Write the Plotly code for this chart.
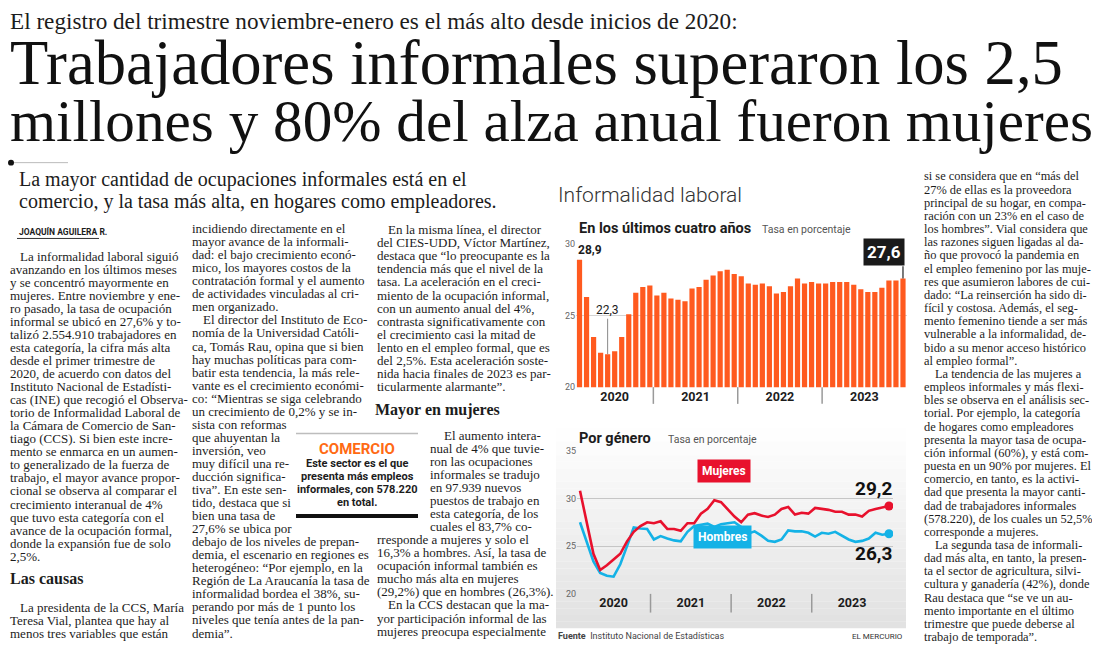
import plotly.graph_objects as go

# the page body adds an 8 px margin, so the figure is drawn 8 px smaller
# and every page position is measured from the window corner
OFF = 8
W, H = 1100 - OFF, 655 - OFF


def px(x):
    return (max(x, OFF) - OFF) / W


def py(y):
    return 1 - (y - OFF) / H


# ---- datos del gráfico (tasa de ocupación informal, %) ----
anios = ["2020", "2021", "2022", "2023"]
centro_anio = [5, 16.5, 28.5, 40.5]
corte_anio = [10.5, 22.5, 34.5]

tasa_total = [28.9, 26.3, 23.5, 22.4, 22.3, 22.5, 23.5, 25.1, 26.6, 27.0, 27.1,
              26.4, 26.6, 26.2, 26.1, 26.0, 26.9, 27.0, 27.5, 27.8, 28.1, 28.2, 27.9,
              27.75, 27.25, 27.15, 27.25, 27.05, 26.55, 26.65, 27.05, 27.6, 27.25, 27.35, 27.25,
              27.25, 27.35, 27.35, 27.35, 27.15, 26.85, 26.65, 26.65, 26.95, 27.45, 27.45, 27.6]

mujeres = [30.8, 27.6, 24.2, 22.5, 23.0, 23.6, 24.2, 25.5, 26.5, 27.1, 27.5,
           27.4, 27.6, 26.8, 26.8, 26.6, 27.4, 27.4, 28.4, 28.9, 29.8, 29.6, 28.8,
           28.1, 27.5, 28.3, 28.45, 28.2, 28.05, 28.3, 28.9, 29.1, 28.3, 28.5, 28.4,
           29.0, 28.9, 28.8, 28.6, 28.6, 28.3, 28.3, 28.1, 28.7, 28.9, 29.05, 29.2]

hombres = [27.5, 25.5, 23.4, 22.2, 21.9, 21.8, 23.1, 25.0, 26.95, 26.85, 26.8,
           25.7, 26.05, 25.8, 25.6, 25.5, 26.5, 27.1, 27.25, 27.35, 27.0, 27.3, 27.4,
           27.5, 27.0, 26.3, 26.55, 26.1, 25.55, 25.45, 25.7, 26.65, 26.55, 26.55, 26.4,
           26.0, 26.4, 26.3, 26.5, 26.1, 25.7, 25.45, 25.55, 25.8, 26.4, 26.2, 26.3]

meses = list(range(len(tasa_total)))

# ---- textos de la página ----
col1 = ["La informalidad laboral siguió", "avanzando en los últimos meses",
        "y se concentró mayormente en", "mujeres. Entre noviembre y ene-",
        "ro pasado, la tasa de ocupación", "informal se ubicó en 27,6% y to-",
        "talizó 2.554.910 trabajadores en", "esta categoría, la cifra más alta",
        "desde el primer trimestre de", "2020, de acuerdo con datos del",
        "Instituto Nacional de Estadísti-", "cas (INE) que recogió el Observa-",
        "torio de Informalidad Laboral de", "la Cámara de Comercio de San-",
        "tiago (CCS). Si bien este incre-", "mento se enmarca en un aumen-",
        "to generalizado de la fuerza de", "trabajo, el mayor avance propor-",
        "cional se observa al comparar el", "crecimiento interanual de 4%",
        "que tuvo esta categoría con el", "avance de la ocupación formal,",
        "donde la expansión fue de solo", "2,5%."]
col1b = ["La presidenta de la CCS, María", "Teresa Vial, plantea que hay al",
         "menos tres variables que están"]
col2 = ["incidiendo directamente en el", "mayor avance de la informali-",
        "dad: el bajo crecimiento econó-", "mico, los mayores costos de la",
        "contratación formal y el aumento", "de actividades vinculadas al cri-",
        "men organizado.", "El director del Instituto de Eco-",
        "nomía de la Universidad Católi-", "ca, Tomás Rau, opina que si bien",
        "hay muchas políticas para com-", "batir esta tendencia, la más rele-",
        "vante es el crecimiento económi-", "co: “Mientras se siga celebrando",
        "un crecimiento de 0,2% y se in-", "sista con reformas",
        "que ahuyentan la", "inversión, veo", "muy difícil una re-",
        "ducción significa-", "tiva”. En este sen-", "tido, destaca que si",
        "bien una tasa de", "27,6% se ubica por",
        "debajo de los niveles de prepan-", "demia, el escenario en regiones es",
        "heterogéneo: “Por ejemplo, en la", "Región de La Araucanía la tasa de",
        "informalidad bordea el 38%, su-", "perando por más de 1 punto los",
        "niveles que tenía antes de la pan-", "demia”."]
col3 = ["En la misma línea, el director", "del CIES-UDD, Víctor Martínez,",
        "destaca que “lo preocupante es la", "tendencia más que el nivel de la",
        "tasa. La aceleración en el creci-", "miento de la ocupación informal,",
        "con un aumento anual del 4%,", "contrasta significativamente con",
        "el crecimiento casi la mitad de", "lento en el empleo formal, que es",
        "del 2,5%. Esta aceleración soste-", "nida hacia finales de 2023 es par-",
        "ticularmente alarmante”."]
col3b = ["El aumento intera-", "nual de 4% que tuvie-", "ron las ocupaciones",
         "informales se tradujo", "en 97.939 nuevos", "puestos de trabajo en",
         "esta categoría, de los", "cuales el 83,7% co-",
         "rresponde a mujeres y solo el", "16,3% a hombres. Así, la tasa de",
         "ocupación informal también es", "mucho más alta en mujeres",
         "(29,2%) que en hombres (26,3%).", "En la CCS destacan que la ma-",
         "yor participación informal de las", "mujeres preocupa especialmente"]
col4 = ["si se considera que en “más del", "27% de ellas es la proveedora",
        "principal de su hogar, en compa-", "ración con un 23% en el caso de",
        "los hombres”. Vial considera que", "las razones siguen ligadas al da-",
        "ño que provocó la pandemia en", "el empleo femenino por las muje-",
        "res que asumieron labores de cui-", "dado: “La reinserción ha sido di-",
        "fícil y costosa. Además, el seg-", "mento femenino tiende a ser más",
        "vulnerable a la informalidad, de-", "bido a su menor acceso histórico",
        "al empleo formal”.", "La tendencia de las mujeres a",
        "empleos informales y más flexi-", "bles se observa en el análisis sec-",
        "torial. Por ejemplo, la categoría", "de hogares como empleadores",
        "presenta la mayor tasa de ocupa-", "ción informal (60%), y está com-",
        "puesta en un 90% por mujeres. El", "comercio, en tanto, es la activi-",
        "dad que presenta la mayor canti-", "dad de trabajadores informales",
        "(578.220), de los cuales un 52,5%", "corresponde a mujeres.",
        "La segunda tasa de informali-", "dad más alta, en tanto, la presen-",
        "ta el sector de agricultura, silvi-", "cultura y ganadería (42%), donde",
        "Rau destaca que “se ve un au-", "mento importante en el último",
        "trimestre que puede deberse al", "trabajo de temporada”."]
recuadro = ["Este sector es el que", "presenta más empleos",
            "informales, con 578.220", "en total."]

SERIF = "Liberation Serif, Times New Roman, serif"
SANS = "Liberation Sans Narrow, Roboto, Arial, sans-serif"
NARANJA = "#ff5a1f"
ROJO = "#e8112d"
CELESTE = "#14b2e6"
TINTA = "#1c1c1c"

fig = go.Figure()

fig.add_trace(go.Bar(x=meses, y=tasa_total, marker_color=NARANJA, marker_line_width=0,
                     showlegend=False, hoverinfo="skip", xaxis="x", yaxis="y"))

fig.add_trace(go.Scatter(x=meses, y=hombres, mode="lines", line=dict(color=CELESTE, width=2.6),
                         showlegend=False, xaxis="x2", yaxis="y2"))
fig.add_trace(go.Scatter(x=meses, y=mujeres, mode="lines", line=dict(color=ROJO, width=2.6),
                         showlegend=False, xaxis="x2", yaxis="y2"))
fig.add_trace(go.Scatter(x=[meses[-1]], y=[mujeres[-1]], mode="markers",
                         marker=dict(color=ROJO, size=9), showlegend=False,
                         xaxis="x2", yaxis="y2"))
fig.add_trace(go.Scatter(x=[meses[-1]], y=[hombres[-1]], mode="markers",
                         marker=dict(color=CELESTE, size=9), showlegend=False,
                         xaxis="x2", yaxis="y2"))

ticks_anio = ["<b>" + a + "</b>" for a in anios]

fig.update_layout(
    width=W, height=H, autosize=False,
    margin=dict(l=0, r=0, t=0, b=0),
    paper_bgcolor="white", plot_bgcolor="rgba(0,0,0,0)",
    bargap=0.26,
    xaxis=dict(domain=[px(576), px(906.5)], range=[-0.5, 46.5], anchor="y",
               tickvals=centro_anio, ticktext=ticks_anio, showgrid=False, zeroline=False,
               showline=False, ticks="", tickfont=dict(family=SANS, size=12.5, color=TINTA)),
    yaxis=dict(domain=[py(388), py(242.7)], range=[20, 30], anchor="x",
               tickvals=[20, 25, 30], gridcolor="#d4d4d4", gridwidth=1, zeroline=False,
               showline=False, ticks="", tickfont=dict(family=SANS, size=9, color="#666")),
    xaxis2=dict(domain=[px(577), px(893)], range=[-0.447, 46.6], anchor="y2",
                tickvals=centro_anio, ticktext=ticks_anio, showgrid=False, zeroline=False,
                showline=False, ticks="", tickfont=dict(family=SANS, size=12.5, color=TINTA)),
    yaxis2=dict(domain=[py(598), py(452.5)], range=[20, 35], anchor="x2",
                tickvals=[20, 25, 30, 35], gridcolor="#c6c6c6", gridwidth=1.4, zeroline=False,
                showline=False, ticks="", tickfont=dict(family=SANS, size=9, color="#666")),
)

shapes = []
# fondo degradado del segundo gráfico
n_bandas = 30
y_ini, y_fin = 430, 633
for i in range(n_bandas):
    t = (i + 0.5) / n_bandas
    g = int(round(255 - 30 * t))
    shapes.append(dict(type="rect", xref="paper", yref="paper", layer="below",
                       x0=px(556), x1=px(906),
                       y0=py(y_ini + (y_fin - y_ini) * (i + 1) / n_bandas),
                       y1=py(y_ini + (y_fin - y_ini) * i / n_bandas),
                       fillcolor=f"rgb({g},{g},{g})", line_width=0))

# separadores de año
for c in corte_anio:
    shapes.append(dict(type="line", xref="x", yref="paper", x0=c, x1=c,
                       y0=py(405), y1=py(388), line=dict(color="#9a9a9a", width=1.5)))
    shapes.append(dict(type="line", xref="x2", yref="paper", x0=c, x1=c,
                       y0=py(617), y1=py(598), line=dict(color="#9a9a9a", width=1.5)))

# guía del último dato (27,6)
shapes.append(dict(type="line", xref="x", yref="y", x0=meses[-1], x1=meses[-1],
                   y0=tasa_total[-1], y1=28.45, line=dict(color="#222", width=1.2)))

# adornos de la página
shapes.append(dict(type="line", xref="paper", yref="paper", x0=px(12), x1=px(68),
                   y0=py(160), y1=py(160), line=dict(color="#bbbbbb", width=1)))
shapes.append(dict(type="circle", xref="paper", yref="paper", x0=px(8), x1=px(14),
                   y0=py(163), y1=py(157), fillcolor="#111", line_width=0))
shapes.append(dict(type="line", xref="paper", yref="paper", x0=px(17), x1=px(99),
                   y0=py(237), y1=py(237), line=dict(color="#333", width=1)))
shapes.append(dict(type="line", xref="paper", yref="paper", x0=px(296), x1=px(418),
                   y0=py(435), y1=py(435), line=dict(color="#bdbdbd", width=1.5)))
shapes.append(dict(type="line", xref="paper", yref="paper", x0=px(296), x1=px(418),
                   y0=py(519), y1=py(519), line=dict(color="#111", width=4)))

ann = []


def texto(x, y, t, size, family=SERIF, color=TINTA, anchor="left", bold=False, weight=None):
    f = dict(family=family, size=size, color=color)
    if weight is not None:
        f["weight"] = weight
    ann.append(dict(x=px(x), y=py(y), xref="paper", yref="paper", text=("<b>%s</b>" % t) if bold else t,
                    showarrow=False, xanchor=anchor, yanchor="middle", font=f))


# encabezados
texto(8, 16, "El registro del trimestre noviembre-enero es el más alto desde inicios de 2020:", 23.2)
texto(8, 59, "Trabajadores informales superaron los 2,5", 62.6, color="#111")
texto(8, 118, "millones y 80% del alza anual fueron mujeres", 59.2, color="#111")
texto(17, 177, "La mayor cantidad de ocupaciones informales está en el", 20)
texto(17, 199, "comercio, y la tasa más alta, en hogares como empleadores.", 20)
texto(17, 230, "JOAQUÍN AGUILERA R.", 8.5, family=SANS, bold=True)

# columnas de texto
ESP = 13.25
BODY = 13
for i, linea in enumerate(col1):
    texto(18 if i == 0 else 8, 255 + i * ESP, linea, BODY)
texto(8, 582, "Las causas", 16, bold=True)
for i, linea in enumerate(col1b):
    texto(18 if i == 0 else 8, 612 + i * ESP, linea, BODY)

for i, linea in enumerate(col2):
    texto(201 if i == 7 else 190, 227 + i * ESP, linea, BODY)

for i, linea in enumerate(col3):
    texto(386 if i == 0 else 375, 228 + i * 13.3, linea, BODY)
texto(373, 411, "Mayor en mujeres", 16, bold=True)
for i, linea in enumerate(col3b):
    if i == 0:
        x0 = 442
    elif i < 8:
        x0 = 428
    elif i == 13:
        x0 = 386
    else:
        x0 = 375
    texto(x0, 437 + i * ESP, linea, BODY)

for i, linea in enumerate(col4):
    texto(933 if i in (15, 28) else 922, 174 + i * 13.37, linea, 12.4)

# recuadro COMERCIO
texto(357, 451, "COMERCIO", 15, family=SANS, color="#ff6a13", anchor="center", bold=True)
for i, linea in enumerate(recuadro):
    texto(357, 466 + i * 13, linea, 11, family=SANS, anchor="center", bold=True)

# títulos del gráfico
texto(556, 193, "Informalidad laboral", 21, family="Roboto, sans-serif", color="#333", weight=300)
texto(577, 227, "En los últimos cuatro años", 14.5, family=SANS, bold=True)
texto(760, 228, "Tasa en porcentaje", 10.5, family=SANS, color="#555")
texto(577, 440, "Por género", 14.5, family=SANS, bold=True)
texto(666, 441, "Tasa en porcentaje", 10.5, family=SANS, color="#555")
texto(556, 641, "<b>Fuente</b>  Instituto Nacional de Estadísticas", 9, family=SANS, color="#444")
texto(905, 641, "EL MERCURIO", 8, family=SANS, color="#333", anchor="right")

# etiquetas de datos
ann.append(dict(x=meses[0], y=tasa_total[0], xref="x", yref="y", text="<b>28,9</b>",
                showarrow=False, xanchor="left", yanchor="bottom", xshift=-4, yshift=1,
                font=dict(family=SANS, size=12, color=TINTA)))
ann.append(dict(x=meses[4], y=tasa_total[4], xref="x", yref="y", text="22,3",
                showarrow=True, arrowhead=0, arrowwidth=1, arrowcolor="#8a8a8a",
                ax=0, ay=-44, font=dict(family=SANS, size=12, color=TINTA)))
ann.append(dict(x=meses[-1], y=28.45, xref="x", yref="y", text="<b>27,6</b>",
                showarrow=False, xanchor="right", yanchor="bottom", xshift=2,
                bgcolor="#1a1a1a", borderpad=3,
                font=dict(family=SANS, size=17, color="white")))
ann.append(dict(x=meses[-1], y=mujeres[-1], xref="x2", yref="y2", text="<b>29,2</b>",
                showarrow=False, xanchor="right", yanchor="bottom", xshift=5, yshift=4,
                font=dict(family=SANS, size=19, color="#111")))
ann.append(dict(x=meses[-1], y=hombres[-1], xref="x2", yref="y2", text="<b>26,3</b>",
                showarrow=False, xanchor="right", yanchor="top", xshift=5, yshift=-6,
                font=dict(family=SANS, size=19, color="#111")))
ann.append(dict(x=px(723.5), y=py(485.5), xref="paper", yref="paper", text="<b>Mujeres</b>",
                showarrow=False, bgcolor=ROJO, borderpad=4,
                font=dict(family=SANS, size=12, color="white")))
ann.append(dict(x=px(722.5), y=py(552), xref="paper", yref="paper", text="<b>Hombres</b>",
                showarrow=False, bgcolor=CELESTE, borderpad=4,
                font=dict(family=SANS, size=12, color="white")))

fig.update_layout(shapes=shapes, annotations=ann)

fig.write_html("out.html")
